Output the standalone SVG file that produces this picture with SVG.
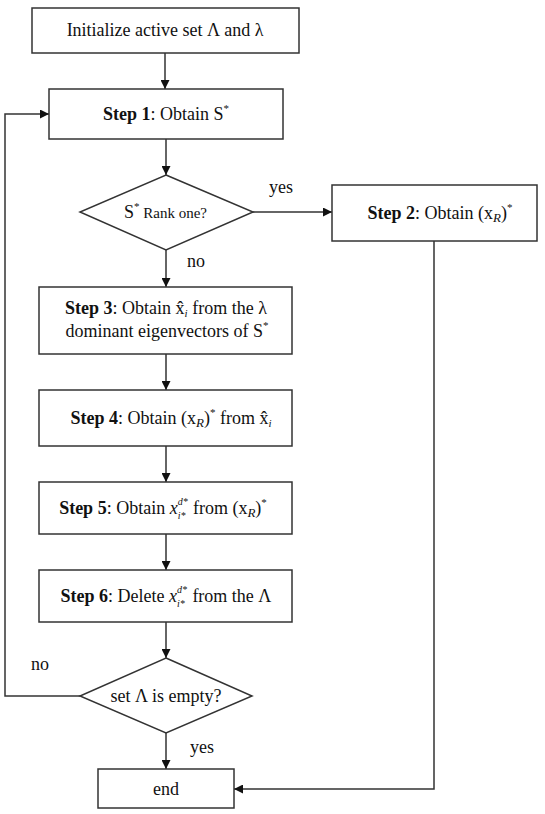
<svg xmlns="http://www.w3.org/2000/svg" width="545" height="814" viewBox="0 0 545 814">
<style>
.box{fill:#fff;stroke:#333;stroke-width:1.5}
.ln{fill:none;stroke:#333;stroke-width:1.5}
.c{text-anchor:middle}
.b{font-weight:bold}
.i{font-style:italic}
</style>
<defs>
<marker id="ar" viewBox="0 0 10 10" refX="10" refY="5" markerWidth="9" markerHeight="9" markerUnits="userSpaceOnUse" orient="auto">
<path d="M0,0 L10,5 L0,10 z" fill="#111"/>
</marker>
</defs>
<rect width="545" height="814" fill="#fff"/>
<g font-family="Liberation Serif, Times New Roman, DejaVu Serif, serif" font-size="18" fill="#111">
<g id="connectors">
<line class="ln" x1="165" y1="53" x2="165" y2="89" marker-end="url(#ar)"/>
<line class="ln" x1="166" y1="139" x2="166" y2="175" marker-end="url(#ar)"/>
<line class="ln" x1="253" y1="212" x2="332" y2="212" marker-end="url(#ar)"/>
<line class="ln" x1="166" y1="250" x2="166" y2="287" marker-end="url(#ar)"/>
<line class="ln" x1="166" y1="354" x2="166" y2="390" marker-end="url(#ar)"/>
<line class="ln" x1="166" y1="446" x2="166" y2="482" marker-end="url(#ar)"/>
<line class="ln" x1="166" y1="534" x2="166" y2="570" marker-end="url(#ar)"/>
<line class="ln" x1="166" y1="622" x2="166" y2="658" marker-end="url(#ar)"/>
<line class="ln" x1="166" y1="733" x2="166" y2="769" marker-end="url(#ar)"/>
<polyline class="ln" points="434,241 434,789 234,789" marker-end="url(#ar)"/>
<polyline class="ln" points="80,696 5,696 5,114 49,114" marker-end="url(#ar)"/>
<text x="269" y="193">yes</text>
<text x="187" y="267">no</text>
<text x="31" y="670">no</text>
<text x="190" y="753">yes</text>
</g>
<g id="init">
<rect class="box" x="32" y="8" width="267" height="45"/>
<text class="c" x="165" y="36">Initialize active set Λ and λ</text>
</g>
<g id="step1">
<rect class="box" x="49" y="89" width="234" height="50"/>
<text class="c" x="166" y="120"><tspan class="b">Step 1</tspan>: Obtain S<tspan font-size="11" dy="-8">*</tspan></text>
</g>
<g id="rank">
<polygon class="box" points="166,175 253,212 166,250 80,212"/>
<text x="124" y="218">S<tspan font-size="11" dy="-8">*</tspan><tspan font-size="15" dy="8"> Rank one?</tspan></text>
</g>
<g id="step2">
<rect class="box" x="332" y="185" width="205" height="56"/>
<text class="c" x="440" y="219"><tspan class="b">Step 2</tspan>: Obtain (x<tspan class="i" font-size="13" dy="3">R</tspan><tspan dy="-3">)</tspan><tspan font-size="11" dy="-8">*</tspan></text>
</g>
<g id="step3">
<rect class="box" x="39" y="287" width="253" height="67"/>
<text class="c" x="166" y="314"><tspan class="b">Step 3</tspan>: Obtain x̂<tspan class="i" font-size="11" dy="3">i</tspan><tspan dy="-3">  from the λ</tspan></text>
<text class="c" x="167" y="337">dominant eigenvectors of S<tspan font-size="11" dy="-8">*</tspan></text>
</g>
<g id="step4">
<rect class="box" x="39" y="390" width="253" height="56"/>
<text class="c" x="171" y="424"><tspan class="b">Step 4</tspan>: Obtain (x<tspan class="i" font-size="13" dy="3">R</tspan><tspan dy="-3">)</tspan><tspan font-size="11" dy="-8">*</tspan><tspan dy="8"> from x̂</tspan><tspan class="i" font-size="11" dy="3">i</tspan></text>
</g>
<g id="step5">
<rect class="box" x="39" y="482" width="253" height="52"/>
<text class="c" x="163" y="514"><tspan class="b">Step 5</tspan>: Obtain <tspan class="i">x</tspan><tspan class="i" font-size="10" dy="-9">d*</tspan><tspan class="i" font-size="10" dx="-10" dy="14">i*</tspan><tspan dx="3" dy="-5"> from (x</tspan><tspan class="i" font-size="13" dy="3">R</tspan><tspan dy="-3">)</tspan><tspan font-size="11" dy="-8">*</tspan></text>
</g>
<g id="step6">
<rect class="box" x="39" y="570" width="253" height="52"/>
<text class="c" x="166" y="602"><tspan class="b">Step 6</tspan>: Delete <tspan class="i">x</tspan><tspan class="i" font-size="10" dy="-9">d*</tspan><tspan class="i" font-size="10" dx="-10" dy="14">i*</tspan><tspan dx="3" dy="-5"> from the Λ</tspan></text>
</g>
<g id="empty">
<polygon class="box" points="166,658 252,696 166,733 80,696"/>
<text class="c" x="166" y="702">set Λ is empty?</text>
</g>
<g id="end">
<rect class="box" x="98" y="769" width="136" height="39"/>
<text class="c" x="166" y="795">end</text>
</g>
</g>
</svg>
